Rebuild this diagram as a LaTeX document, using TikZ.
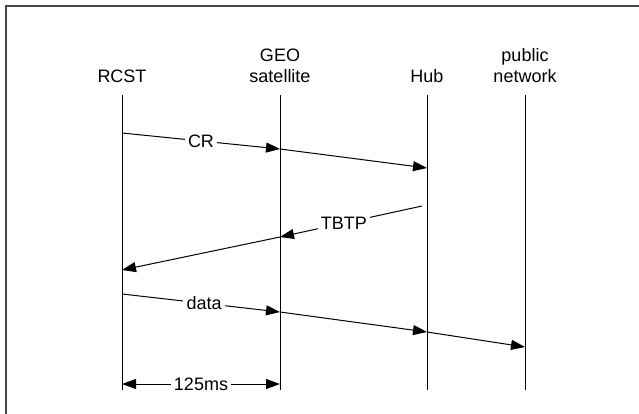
\documentclass[tikz,border=0pt]{standalone}
\usepackage{fontspec}
\setmainfont{Liberation Sans}
\usetikzlibrary{arrows.meta}
\begin{document}
\begin{tikzpicture}[x=0.75pt,y=-0.75pt,
  font=\fontsize{13.5}{15.75}\selectfont,
  lifeline/.style={line width=0.75pt},
  msg/.style={line width=0.75pt,-{Triangle[length=10.5pt,width=7.5pt]}},
  span/.style={line width=0.75pt,{Triangle[length=10.5pt,width=7.5pt]}-{Triangle[length=10.5pt,width=7.5pt]}},
  tag/.style={fill=white,inner sep=2.5pt},
  head/.style={align=center,anchor=south,inner sep=0pt}]
\useasboundingbox (0,0) rectangle (639,414);

% frame edges
\draw[line width=1.5pt,color=black!72] (639,5.5) -- (5.5,5.5) -- (5.5,414);

% participant headings
\node[head] (rcst) at (122,83) {RCST};
\node[head] (geo)  at (280,83) {GEO\\satellite};
\node[head] (hub)  at (427,83) {Hub};
\node[head] (pub)  at (525,83) {public\\network};

% lifelines
\coordinate (rT) at (122,95);  \coordinate (rB) at (122,390);
\coordinate (gT) at (280,95);  \coordinate (gB) at (280,390);
\coordinate (hT) at (427,95);  \coordinate (hB) at (427,390);
\coordinate (pT) at (525,95);  \coordinate (pB) at (525,390);
\draw[lifeline] (rT) -- (rB);
\draw[lifeline] (gT) -- (gB);
\draw[lifeline] (hT) -- (hB);
\draw[lifeline] (pT) -- (pB);

% capacity request
\coordinate (c1) at (122,133);
\coordinate (c2) at (280,149);
\coordinate (c3) at (427,168);
\draw[msg] (c1) -- node[tag] (cr) {CR} (c2);
\draw[msg] (c2) -- (c3);

% burst time plan
\coordinate (t1) at (422,206);
\coordinate (t2) at (280,237);
\coordinate (t3) at (122,270);
\draw[msg] (t1) -- node[tag,pos=0.55] (tbtp) {TBTP} (t2);
\draw[msg] (t2) -- (t3);

% user data
\coordinate (d1) at (122,294);
\coordinate (d2) at (280,312);
\coordinate (d3) at (427,332);
\coordinate (d4) at (525,347);
\draw[msg] (d1) -- node[tag,pos=0.52] (data) {data} (d2);
\draw[msg] (d2) -- (d3);
\draw[msg] (d3) -- (d4);

% one-hop delay
\coordinate (m1) at (122,384);
\coordinate (m2) at (280,384);
\draw[span] (m1) -- node[tag] (delay) {125ms} (m2);
\end{tikzpicture}
\end{document}
